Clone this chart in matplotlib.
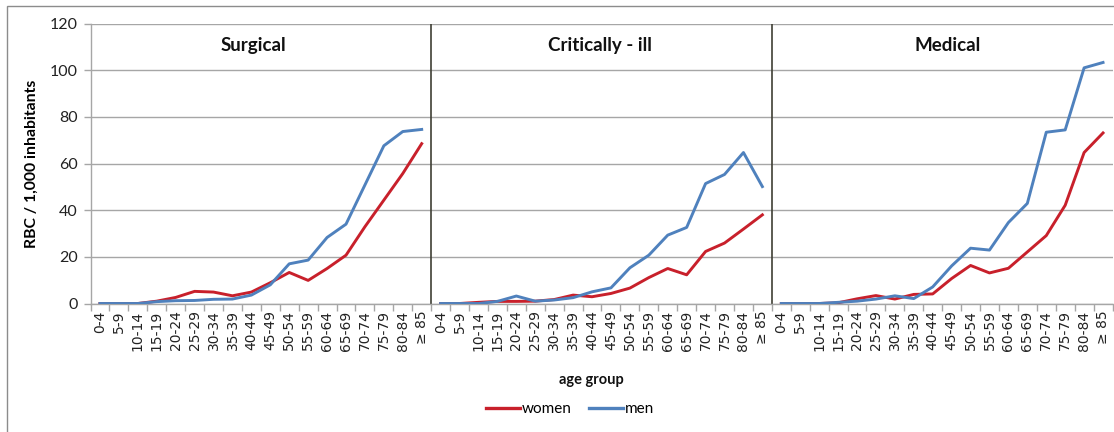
import numpy as np
import matplotlib
matplotlib.use("Agg")
import matplotlib.pyplot as plt
from matplotlib.lines import Line2D
from matplotlib.patches import Rectangle

# Age groups (repeated for each panel)
age_groups = ["0-4", "5-9", "10-14", "15-19", "20-24", "25-29", "30-34", "35-39",
              "40-44", "45-49", "50-54", "55-59", "60-64", "65-69", "70-74",
              "75-79", "80-84", "\u2265 85"]
panels = ["Surgical", "Critically - ill", "Medical"]

# RBC per 1,000 inhabitants
surgical_women = [0, 0, 0, 1.0, 2.6, 5.2, 4.9, 3.3, 4.9, 8.9, 13.3, 9.9, 15.0, 20.7,
                  32.9, 44.3, 55.7, 68.5]
surgical_men = [0, 0, 0, 0.8, 1.2, 1.3, 1.8, 1.9, 3.6, 8.0, 17.0, 18.6, 28.3, 34.0,
                50.8, 67.6, 73.7, 74.6]
critical_women = [0, 0, 0.5, 0.9, 0.9, 1.0, 1.7, 3.6, 2.9, 4.3, 6.6, 11.1, 15.0, 12.3,
                  22.3, 25.9, 31.9, 38.0]
critical_men = [0, 0, 0, 0.9, 3.2, 1.0, 1.5, 2.5, 5.0, 6.7, 15.3, 20.7, 29.3, 32.6,
                51.4, 55.3, 64.7, 50.1]
medical_women = [0, 0, 0, 0.3, 2.0, 3.4, 1.9, 3.9, 4.1, 10.7, 16.3, 13.1, 15.1, 22.1,
                 29.1, 42.1, 64.7, 73.1]
medical_men = [0, 0, 0, 0.5, 1.0, 1.9, 3.3, 2.1, 7.1, 16.1, 23.7, 22.9, 34.7, 42.9,
               73.4, 74.4, 101.0, 103.3]

women = [surgical_women, critical_women, medical_women]
men = [surgical_men, critical_men, medical_men]

RED = "#C8202B"
BLUE = "#4F81BD"
GRID = "#A6A6A6"
SEP = "#3F3F35"

W, H = 1114, 432
fig = plt.figure(figsize=(W / 100, H / 100), dpi=100)
fig.patch.set_facecolor("white")

# outer frame
fig.add_artist(Rectangle((7 / W, -0.1), 1.2, (432 - 6) / H + 0.1,
                         transform=fig.transFigure, fill=False,
                         edgecolor="#8C8C8C", linewidth=1.0))

left, right = 90.5 / W, 1112.5 / W
bottom, top = (H - 303.5) / H, (H - 23.5) / H
ax = fig.add_axes([left, bottom, right - left, top - bottom])

n = len(age_groups)
for i in range(3):
    xs = np.arange(n) + i * n
    ax.plot(xs, women[i], color=RED, lw=2.1, solid_joinstyle="round", zorder=3)
    ax.plot(xs, men[i], color=BLUE, lw=2.1, solid_joinstyle="round", zorder=3)
    title_x = [8.1, 26.4, 44.8][i]
    ax.text(title_x, 110.5, panels[i], ha="center", va="center",
            fontsize=13.5, fontweight="bold", family="Lato", color="#111111")

for b in (n - 0.5, 2 * n - 0.5):
    ax.axvline(b, color=SEP, lw=1.2, zorder=2)

ax.set_xlim(-0.5, 3 * n - 0.5)
ax.set_ylim(0, 120)
ax.set_yticks(np.arange(0, 121, 20))
ax.yaxis.grid(True, color=GRID, lw=1.0)
ax.set_axisbelow(True)

ax.set_xticks(np.arange(3 * n))
ax.set_xticklabels(age_groups * 3, rotation=90, fontsize=10, family="DejaVu Sans",
                   color="#222222")
ax.set_xticks(np.arange(3 * n + 1) - 0.5, minor=True)
ax.tick_params(axis="x", which="major", length=0, pad=5)
ax.tick_params(axis="x", which="minor", length=5, color=GRID, width=1.0)
ax.tick_params(axis="y", length=5, color=GRID, width=1.0, pad=4)
for lbl in ax.get_yticklabels():
    lbl.set_fontsize(11.5)
    lbl.set_family("Lato")
    lbl.set_color("#222222")

for s in ("top", "right"):
    ax.spines[s].set_visible(False)
for s in ("left", "bottom"):
    ax.spines[s].set_color(GRID)
    ax.spines[s].set_linewidth(1.0)

ax.set_ylabel("RBC / 1,000 inhabitants", fontsize=11.3, fontweight="bold",
              family="Lato", labelpad=8)

fig.text(591 / W, 1 - 380 / H, "age group", ha="center", va="center",
         fontsize=10.5, fontweight="bold", family="Lato", color="#111111")

handles = [Line2D([], [], color=RED, lw=2.4), Line2D([], [], color=BLUE, lw=2.4)]
fig.legend(handles, ["women", "men"], loc="center", bbox_to_anchor=(570 / W, 1 - 409 / H),
           ncol=2, frameon=False, handlelength=2.2, handletextpad=0.1,
           columnspacing=1.2, prop={"family": "Lato", "size": 11})

fig.savefig("out.png", dpi=100, facecolor="white")
